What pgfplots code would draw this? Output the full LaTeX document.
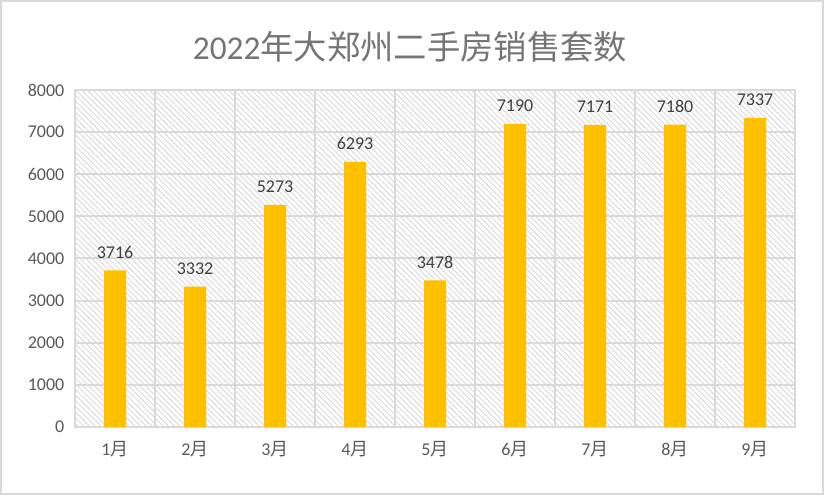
\documentclass[border=0pt]{standalone}
\usepackage{pgfplots}
\pgfplotsset{compat=1.18}
\usetikzlibrary{patterns.meta}
\usepackage{fontspec}
\setmainfont{Carlito}
\newfontfamily\cjk{Noto Sans CJK SC}
\definecolor{barc}{HTML}{FFC000}
\definecolor{gridc}{HTML}{D9D9D9}
\definecolor{txt}{HTML}{595959}
\definecolor{lbl}{HTML}{404040}
\definecolor{titlec}{HTML}{757575}
\pgfplotsset{/pgf/number format/1000 sep={}}
\begin{document}
\begin{tikzpicture}
\path[use as bounding box] (0,0) rectangle (618pt,371.25pt);
\draw[gridc, line width=1.5pt] (0.75pt,0.75pt) rectangle (617.25pt,370.5pt);
\node[font=\fontsize{25}{29}\selectfont, text=titlec] at (307.5pt,336.5pt) {2022{\cjk 年大郑州二手房销售套数}};
\begin{axis}[
  at={(56.25pt,51pt)}, anchor=south west,
  scale only axis, width=540pt, height=252.75pt,
  xmin=0.5, xmax=9.5, ymin=0, ymax=8000,
  ybar,
  xtick={1,...,9},
  xticklabels={1{\cjk 月},2{\cjk 月},3{\cjk 月},4{\cjk 月},5{\cjk 月},6{\cjk 月},7{\cjk 月},8{\cjk 月},9{\cjk 月}},
  ytick={0,1000,...,8000},
  minor xtick={0.5,1.5,...,9.5},
  xminorgrids=true, ymajorgrids=true, xmajorgrids=false,
  grid style={gridc, line width=1.5pt},
  minor grid style={gridc, line width=1.5pt},
  axis line style={gridc, line width=1.5pt},
  major tick length=0pt, minor tick length=0pt,
  tick style={draw=none},
  ticklabel style={font=\fontsize{13.5}{16}\selectfont, text=txt},
  /pgf/number format/assume math mode=true,
  scaled y ticks=false,
  yticklabel style={xshift=-4.5pt},
  xticklabel style={yshift=-7pt},
  axis background/.style={pattern={Lines[angle=-45,distance=3pt,line width=0.7pt]}, pattern color=gridc},
]
\addplot[fill=barc, draw=none, bar width=16.5pt,
  nodes near coords,
  nodes near coords style={font=\fontsize{13.5}{16}\selectfont, text=lbl, yshift=5.5pt}]
coordinates {(1,3716) (2,3332) (3,5273) (4,6293) (5,3478) (6,7190) (7,7171) (8,7180) (9,7337)};
\end{axis}
\end{tikzpicture}
\end{document}
